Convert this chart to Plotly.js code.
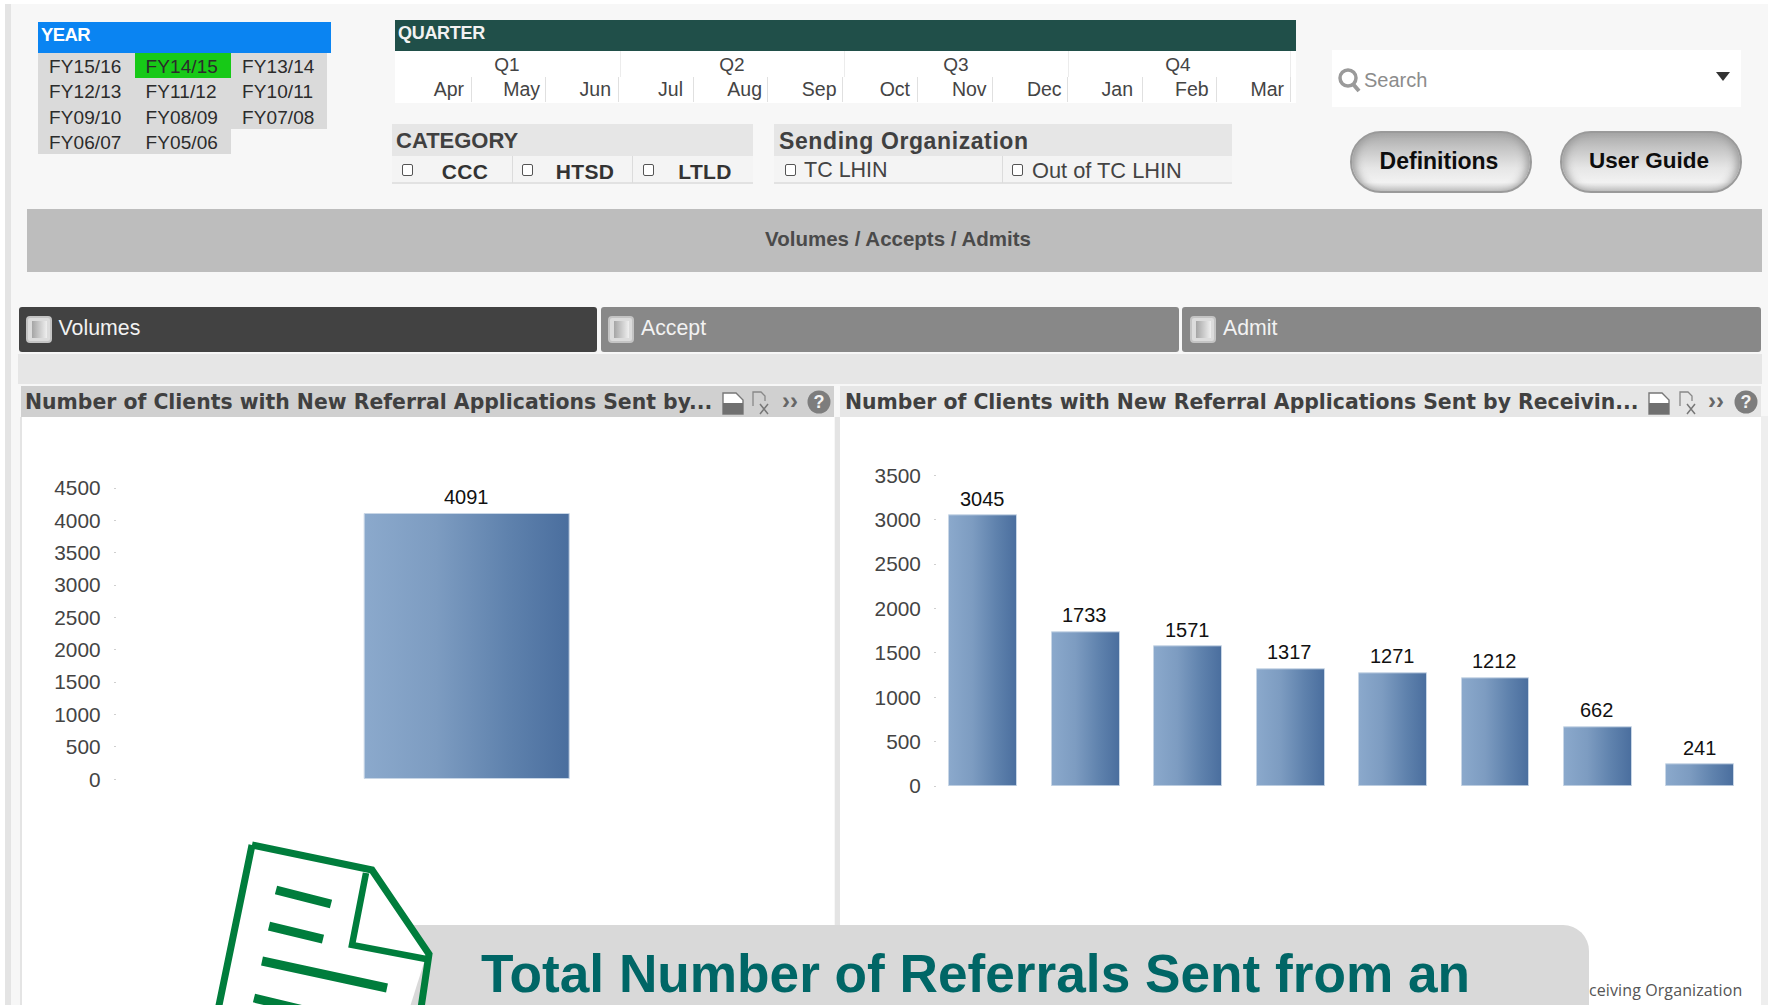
<!DOCTYPE html>
<html><head><meta charset="utf-8">
<script src="https://cdn.plot.ly/plotly-3.0.1.min.js"></script>
<style>
html,body{margin:0;padding:0;width:1768px;height:1005px;overflow:hidden;background:#fff}
#page{position:relative;width:1768px;height:1005px;overflow:hidden;font-family:"Liberation Sans",Arial,sans-serif}
.b{position:absolute;box-sizing:border-box}
.t{position:absolute;white-space:nowrap;line-height:1;color:#333}
.cb{position:absolute;width:11px;height:12px;border:1px solid #555;border-radius:2px;background:#fff;box-sizing:border-box}
#chart{position:absolute;left:0;top:0;width:1768px;height:1005px}
</style></head><body>
<div id="page"><div id="chrome"></div><div id="chart"></div><div id="over"></div></div>
<script>
// ----- data -----
const yearLabels = [["FY15/16","FY14/15","FY13/14"],["FY12/13","FY11/12","FY10/11"],["FY09/10","FY08/09","FY07/08"],["FY06/07","FY05/06"]];
const selectedYear = "FY14/15";
const quarterLabels = ["Q1","Q2","Q3","Q4"];
const monthLabels = ["Apr","May","Jun","Jul","Aug","Sep","Oct","Nov","Dec","Jan","Feb","Mar"];
const categoryLabels = ["CCC","HTSD","LTLD"];
const tabLabels = ["Volumes","Accept","Admit"];
const leftTitle = "Number of Clients with New Referral Applications Sent by...";
const rightTitle = "Number of Clients with New Referral Applications Sent by Receivin...";
const sendingCategories = ["Sending Organization"];
const sendingValues = [4091];
const receivingCategories = ["R1","R2","R3","R4","R5","R6","R7","R8"];
const receivingValues = [3045,1733,1571,1317,1271,1212,662,241];

// ----- page furniture -----
const W=1768,H=1005;
let html='';
const box=(x,y,w,h,c,extra='')=>{html+=`<div class="b" style="left:${x}px;top:${y}px;width:${w}px;height:${h}px;background:${c};${extra}"></div>`};
const txt=(s,x,cy,size,color,opt={})=>{
  const tr=opt.anchor==='c'?'translate(-50%,-50%)':opt.anchor==='r'?'translate(-100%,-50%)':'translateY(-50%)';
  html+=`<div class="t" style="left:${x}px;top:${cy}px;font-size:${size}px;color:${color};transform:${tr};font-weight:${opt.w||400};font-family:${opt.f||'inherit'};letter-spacing:${opt.ls||0}px">${s}</div>`};
const cb=(x,cy)=>{html+=`<div class="cb" style="left:${x-5.5}px;top:${cy-6}px"></div>`};

box(0,0,W,H,'#fff');
box(6,4,W-6,H-4,'#f7f7f7');
box(5,4,6,H-4,'#e4e4e4');
box(1761,416,7,H-416,'#eeeeee');

// year
box(38,22,293,31,'#0a84f2');
txt('YEAR',41,35,18.5,'#fff',{w:700,ls:-.6});
const colX=[38,135,231], colW=[97,96,96], rowY=[53,78,103.5,129], rowH=[25,25.5,25.5,25];
const colText=[49,145.5,242], rowC=[65.5,91,116.5,142];
yearLabels.forEach((r,i)=>r.forEach((l,j)=>{
  const sel=l===selectedYear;
  box(colX[j],rowY[i],colW[j],rowH[i],sel?'#17c917':'#dadada');
  txt(l,colText[j],rowC[i],19,'#2b2b2b',{ls:.1});
}));

// quarter
box(395,20,901,31,'#204f49');
txt('QUARTER',398,33,18,'#f2f2f2',{w:700,ls:-.3});
box(395,51,901,52,'#fff');
const qC=[507,732,956,1178], qSep=[619.5,844,1068,1290];
quarterLabels.forEach((q,i)=>{txt(q,qC[i],64,19,'#444',{anchor:'c'});box(qSep[i],51,1,26,'#ececec')});
const mR=[464,540,611,683,762,836.5,910,986.6,1061.6,1133,1208.7,1284];
const mSep=[470.7,545,618,693,767,842,916.7,991.7,1067,1141.6,1215.5,1290];
monthLabels.forEach((m,i)=>{txt(m,mR[i],89.5,19.5,'#444',{anchor:'r'});box(mSep[i],77,1,25,'#e0e0e0')});

// category
box(392,124,361,32,'#e6e6e6');box(392,156,361,27,'#f4f4f4');box(392,182,361,2,'#e2e2e2');
txt('CATEGORY',396,141,22,'#404040',{w:700});
const cbX=[407,527,648], cT=[465,585,705], cSep=[512,632];
categoryLabels.forEach((c,i)=>{cb(cbX[i],170);txt(c,cT[i],170.5,21,'#333',{anchor:'c',w:700,ls:.3})});
cSep.forEach(x=>box(x,156,1,27,'#dcdcdc'));

// sending
box(774,124,458,32,'#e6e6e6');box(774,156,458,27,'#f4f4f4');box(774,182,458,2,'#e2e2e2');
txt('Sending Organization',779,141,23,'#404040',{w:700,ls:.6});
box(1002,156,1,27,'#dcdcdc');
cb(790,170);txt('TC LHIN',804,170.5,21.5,'#444');
cb(1017,170);txt('Out of TC LHIN',1032,170.5,21.8,'#444');

// search
box(1332,50,409,57,'#fff');
html+=`<svg class="b" style="left:1336px;top:66px" width="26" height="28"><circle cx="12" cy="12" r="8" fill="none" stroke="#9a9a9a" stroke-width="3.5"/><line x1="17" y1="18" x2="23" y2="25" stroke="#9a9a9a" stroke-width="4"/></svg>`;
txt('Search',1364,80,20,'#8c8c8c');
html+=`<svg class="b" style="left:1716px;top:72px" width="14" height="10"><path d="M0 0H14L7 9Z" fill="#333"/></svg>`;

// buttons
[[1350,'Definitions'],[1560,'User Guide']].forEach(([x,l])=>{
  box(x,131,182,62,'linear-gradient(#a9a9a9 0%,#c4c4c4 25%,#e6e6e6 60%,#f2f2f2 85%,#c8c8c8 100%)','border:2px solid #9a9a9a;border-radius:31px;box-shadow:inset 8px 0 8px -5px #999,inset -8px 0 8px -5px #999');
  txt(l,x+89,161,l==='Definitions'?23:22.5,'#0d0d0d',{anchor:'c',w:700});
});

// band
box(27,209,1735,63,'#bdbdbd');
txt('Volumes / Accepts / Admits',898,239,20.5,'#4a4a4a',{anchor:'c',w:700});

// tabs
const tabX=[18.6,601,1182], tabW=[578.4,577.7,578.6], tabC=['#424242','#888888','#888888'], iconX=[26,608,1190], tabT=[58.6,641,1223];
tabLabels.forEach((l,i)=>{
  box(tabX[i],307,tabW[i],45,tabC[i],'border-radius:3px');
  box(iconX[i],316,26,27,'#dcdcdc','border-radius:4px;border:2px solid #c4c4c4');
  box(iconX[i]+6,321,15,17,'linear-gradient(90deg,#a5a5a5,#efefef)');
  txt(l,tabT[i],328.5,21.3,'#f2f2f2');
});

// strip and panels
box(18,354,1744,30,'#e6e6e6');
box(21,417,813,H-417,'#fff');box(840,417,921,H-417,'#fff');
box(21,386,813,31,'#d0d0d0');box(840,386,921,31,'#e6e6e6');
box(20,417,2,H-417,'#e4e4e4');box(835,417,5,H-417,'#e4e4e4');
txt(leftTitle,25,402,20.4,'#404040',{w:700,f:"'DejaVu Sans'"});
txt(rightTitle,845,402,20.4,'#404040',{w:700,f:"'DejaVu Sans'"});
const icons=(a,b,c,d)=>{
  html+=`<svg class="b" style="left:${a-11}px;top:391px" width="24" height="24"><path d="M2 2H15L22 9V23H2Z" fill="#fff" stroke="#777" stroke-width="1.4"/><rect x="2" y="12" width="20" height="11" fill="#707070"/></svg>`;
  html+=`<svg class="b" style="left:${b-11}px;top:390px" width="24" height="26"><path d="M3 16V2H11L15 6V11" fill="none" stroke="#888" stroke-width="1.3"/><path d="M10 14L18 24M18 14L10 24" stroke="#777" stroke-width="1.5"/></svg>`;
  txt('››',c,401,24,'#666',{anchor:'c',w:700});
  html+=`<svg class="b" style="left:${d-12}px;top:390px" width="24" height="24"><circle cx="12" cy="12" r="11.5" fill="#7d7d7d"/><text x="12" y="18" font-size="18" font-weight="700" text-anchor="middle" fill="#f3f3f3" font-family="Liberation Sans">?</text></svg>`;
};
icons(732,761,790,819);icons(1658,1688,1716,1746);
document.getElementById('chrome').innerHTML=html;

// overlay (callout)
html='';
txt('ceiving Organization',1589,990,16,'#555',{ls:.1,f:"'Open Sans'"});
box(360,925,1229,90,'#d9d9d9','border-radius:0 26px 0 0');
html+=`<svg class="b" style="left:200px;top:830px" width="250" height="175" viewBox="200 830 250 175">
<path d="M250 844L373 869L427 953L409 1010H210Z" fill="#fff"/>
<path d="M252 845L372 870L429 954L420 1015M252 845L217 1015" fill="none" stroke="#007d3c" stroke-width="7"/>
<path d="M366 873L352 945L426 959" fill="none" stroke="#007d3c" stroke-width="6.5"/>
<path d="M276 890L331 904M269 926L323 939M262 961L387 988M254 998L320 1014" fill="none" stroke="#007d3c" stroke-width="9"/></svg>`;
txt('Total Number of Referrals Sent from an',481,974,53.2,'#006666',{w:700});
document.getElementById('over').innerHTML=html;

// ----- chart -----
const dx=(a,b)=>[a/W,b/W], dy=(bottom,top)=>[(H-bottom)/H,(H-top)/H];
const tickFont={family:'"Liberation Sans",Arial,sans-serif',size:20.8,color:'#444'};
const valFont={family:'"Liberation Sans",Arial,sans-serif',size:20,color:'#111'};
const barLine={color:'#c8d6e6',width:1};
const traces=[
 {type:'bar',x:sendingCategories,y:sendingValues,xaxis:'x',yaxis:'y',hoverinfo:'x+y',marker:{color:'#6c8cb5',line:barLine},width:sendingValues.map(()=>0.292)},
 {type:'bar',x:receivingCategories,y:receivingValues,xaxis:'x2',yaxis:'y2',hoverinfo:'x+y',marker:{color:'#6c8cb5',line:barLine},width:receivingValues.map(()=>0.664)}
];
const valueNotes=(cats,vals,xr,yr)=>vals.map((v,i)=>({x:cats[i],y:v,xref:xr,yref:yr,text:String(v),showarrow:false,yanchor:'bottom',xanchor:'center',xshift:-1,yshift:4,font:valFont}));
const yax=(max,dom,anchor)=>({domain:dom,anchor,range:[0,max],dtick:500,tick0:0,showgrid:false,zeroline:false,showline:false,ticks:'outside',ticklen:2,tickwidth:1,tickcolor:'#cfcfcf',tickfont:tickFont,ticklabelstandoff:9,fixedrange:true});
const xax=(dom,anchor,range)=>({domain:dom,anchor,range,type:'category',showgrid:false,zeroline:false,showline:false,ticks:'',showticklabels:false,fixedrange:true});
const layout={width:W,height:H,margin:{l:0,r:0,t:0,b:0},paper_bgcolor:'rgba(0,0,0,0)',plot_bgcolor:'rgba(0,0,0,0)',showlegend:false,
 bargap:0,
 xaxis:xax(dx(116.7,817.3),'y',[-0.5,0.5]),
 yaxis:yax(4500,dy(779.3,488),'x'),
 xaxis2:xax(dx(937,1751.5),'y2',[-0.454,7.5]),
 yaxis2:yax(3500,dy(786,475.3),'x2'),
 annotations:[...valueNotes(sendingCategories,sendingValues,'x','y'),...valueNotes(receivingCategories,receivingValues,'x2','y2')]
};
Plotly.newPlot('chart',traces,layout,{displayModeBar:false,responsive:false}).then(gd=>{
  const svg=gd.querySelector('.main-svg');
  const ns='http://www.w3.org/2000/svg';
  const defs=svg.querySelector('defs');
  const g=document.createElementNS(ns,'linearGradient');
  g.setAttribute('id','barGrad');g.setAttribute('x1','0');g.setAttribute('x2','1');g.setAttribute('y1','0');g.setAttribute('y2','0');
  [['0','#8ba9cc'],['0.35','#7d9cc1'],['0.7','#5f82ad'],['1','#4a6e9e']].forEach(([o,c])=>{
    const s=document.createElementNS(ns,'stop');s.setAttribute('offset',o);s.setAttribute('stop-color',c);g.appendChild(s);
  });
  defs.appendChild(g);
  gd.querySelectorAll('.bars .point path').forEach(p=>{p.style.fill='url(#barGrad)'});
});
</script>
</body></html>
